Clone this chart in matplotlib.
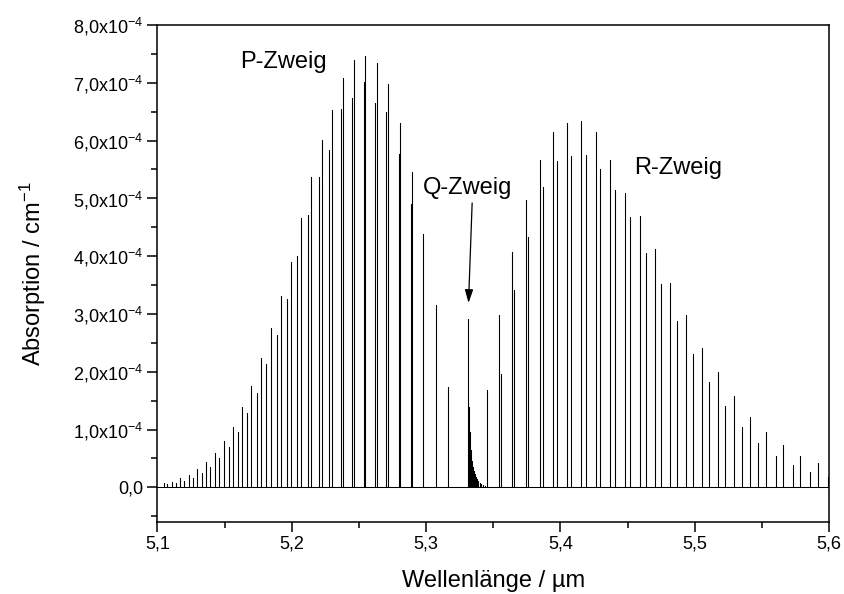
"""IR absorption spectrum with P-, Q- and R-branch (Origin-style figure)."""
import numpy as np
import matplotlib
matplotlib.use("Agg")
import matplotlib.pyplot as plt
from matplotlib.ticker import FuncFormatter, MultipleLocator

plt.rcParams.update({
    "font.family": ["Liberation Sans", "DejaVu Sans"],
    "mathtext.default": "regular",
    "axes.linewidth": 1.1,
})

# line positions (um) and peak heights (1e-4 cm^-1)
p_pos = [5.1051, 5.1073, 5.1110, 5.1136, 5.1170, 5.1197, 5.1232, 5.1262,
         5.1296, 5.1329, 5.1359, 5.1393, 5.1426, 5.1458, 5.1493, 5.1530,
         5.1560, 5.1597, 5.1629, 5.1669, 5.1698, 5.1739, 5.1771, 5.1810,
         5.1843, 5.1892, 5.1917, 5.1966, 5.1992, 5.2041, 5.2066, 5.2118,
         5.2145, 5.2200, 5.2223, 5.2279, 5.2302, 5.2366, 5.2383, 5.2450,
         5.2465, 5.2535, 5.2547, 5.2616, 5.2634, 5.2704, 5.2716, 5.2796,
         5.2808, 5.2885, 5.2893, 5.2979, 5.3071, 5.3163]
p_val = [0.07, 0.05, 0.10, 0.07, 0.16, 0.11, 0.22, 0.17,
         0.31, 0.25, 0.44, 0.35, 0.59, 0.50, 0.80, 0.69,
         1.04, 0.95, 1.39, 1.28, 1.76, 1.64, 2.23, 2.14,
         2.76, 2.63, 3.31, 3.26, 3.89, 4.00, 4.66, 4.72,
         5.37, 5.37, 6.01, 5.84, 6.53, 6.55, 7.08, 6.74,
         7.39, 7.02, 7.47, 6.65, 7.35, 6.50, 6.97, 5.77,
         6.31, 4.91, 5.45, 4.38, 3.15, 1.74]

q_pos = [5.3314, 5.3319, 5.3324, 5.3328, 5.3333, 5.3338, 5.3343, 5.3349,
         5.3355, 5.3362, 5.3369, 5.3377, 5.3386, 5.3398, 5.3410, 5.3424,
         5.3439]
q_val = [2.91, 1.39, 0.95, 0.76, 0.64, 0.54, 0.45, 0.36,
         0.29, 0.23, 0.18, 0.14, 0.11, 0.08, 0.06, 0.04,
         0.03]

r_pos = [5.3451, 5.3545, 5.3555, 5.3642, 5.3657, 5.3742, 5.3761, 5.3846,
         5.3868, 5.3947, 5.3972, 5.4051, 5.4079, 5.4157, 5.4188, 5.4263,
         5.4297, 5.4372, 5.4409, 5.4481, 5.4520, 5.4593, 5.4635, 5.4702,
         5.4751, 5.4818, 5.4867, 5.4935, 5.4987, 5.5052, 5.5108, 5.5171,
         5.5228, 5.5290, 5.5350, 5.5410, 5.5474, 5.5533, 5.5603, 5.5660,
         5.5730, 5.5786, 5.5861, 5.5916, 5.5995]
r_val = [1.69, 2.98, 1.96, 4.07, 3.41, 4.97, 4.33, 5.66,
         5.19, 6.15, 5.65, 6.30, 5.74, 6.34, 5.75, 6.14,
         5.51, 5.67, 5.15, 5.10, 4.68, 4.69, 4.06, 4.13,
         3.51, 3.54, 2.88, 2.98, 2.31, 2.41, 1.82, 1.99,
         1.40, 1.58, 1.04, 1.21, 0.76, 0.96, 0.54, 0.73,
         0.38, 0.55, 0.27, 0.42, 0.18]

x_range = (5.1, 5.6)
y_range = (-0.6e-4, 8.0e-4)

# stick spectrum as one continuous trace on the zero baseline
pos = np.array(p_pos + q_pos + r_pos)
val = np.array(p_val + q_val + r_val) * 1e-4
order = np.argsort(pos)
pos, val = pos[order], val[order]
xs = np.concatenate([[x_range[0]], np.repeat(pos, 3), [x_range[1]]])
ys = np.concatenate([[0.0], np.column_stack([np.zeros_like(val), val, np.zeros_like(val)]).ravel(), [0.0]])

fig = plt.figure(figsize=(8.44, 5.94), dpi=100)
ax = fig.add_axes([0.1866, 0.1212, 0.7956, 0.8368])
ax.plot(xs, ys, color="black", lw=0.75, solid_joinstyle="miter")

ax.set_xlim(*x_range)
ax.set_ylim(*y_range)
ax.xaxis.set_major_locator(MultipleLocator(0.1))
ax.xaxis.set_minor_locator(MultipleLocator(0.05))
ax.yaxis.set_major_locator(MultipleLocator(1e-4))
ax.yaxis.set_minor_locator(MultipleLocator(0.5e-4))


def y_fmt(v, _):
    if abs(v) < 1e-12:
        return "0,0"
    return f"{v / 1e-4:.1f}".replace(".", ",") + r"x10$^{-4}$"


ax.yaxis.set_major_formatter(FuncFormatter(y_fmt))
ax.xaxis.set_major_formatter(FuncFormatter(lambda v, _: f"{v:.1f}".replace(".", ",")))
ax.tick_params(which="major", direction="out", length=7, width=1.1, labelsize=13, pad=3)
ax.tick_params(which="minor", direction="out", length=4, width=1.1)

ax.set_xlabel("Wellenlänge / µm", fontsize=17, labelpad=12)
ax.set_ylabel("Absorption / cm$^{-1}$", fontsize=17, labelpad=18)

ax.text(5.194, 7.36e-4, "P-Zweig", fontsize=17, ha="center", va="center")
ax.text(5.3312, 5.18e-4, "Q-Zweig", fontsize=17, ha="center", va="center")
ax.text(5.4876, 5.52e-4, "R-Zweig", fontsize=17, ha="center", va="center")
ax.annotate("", xy=(5.3316, 3.19e-4), xytext=(5.3343, 4.92e-4),
            arrowprops=dict(arrowstyle="-|>,head_length=0.8,head_width=0.25",
                            color="black", lw=0.9, shrinkA=0, shrinkB=0))

fig.savefig("out.png", dpi=100, facecolor="white")
